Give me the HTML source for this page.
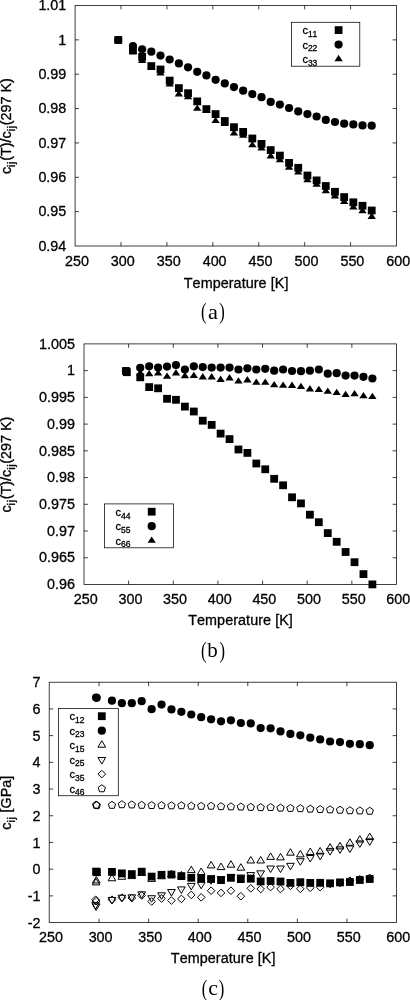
<!DOCTYPE html>
<html><head><meta charset="utf-8"><title>Elastic constants vs temperature</title>
<style>html,body{margin:0;padding:0;background:#fff}svg{display:block}text{font-family:"Liberation Sans", sans-serif;font-kerning:none;fill:#000;stroke:#000;stroke-width:0.3px}.cap{font-family:"Liberation Serif",serif;stroke:none}.o{fill:none;stroke:#000;stroke-width:1}.o circle{fill:#555;stroke:none}</style></head><body>
<svg width="410" height="1000" viewBox="0 0 410 1000">
<rect width="410" height="1000" fill="#fff"/>
<g fill="none" stroke="#000" stroke-width="0.75">
<rect x="75.1" y="5.5" width="321.4" height="240.5"/>
<path d="M121.01 246v-3.9M121.01 5.5v3.9M166.93 246v-3.9M166.93 5.5v3.9M212.84 246v-3.9M212.84 5.5v3.9M258.76 246v-3.9M258.76 5.5v3.9M304.67 246v-3.9M304.67 5.5v3.9M350.59 246v-3.9M350.59 5.5v3.9M75.1 39.86h3.9M396.5 39.86h-3.9M75.1 74.21h3.9M396.5 74.21h-3.9M75.1 108.57h3.9M396.5 108.57h-3.9M75.1 142.93h3.9M396.5 142.93h-3.9M75.1 177.29h3.9M396.5 177.29h-3.9M75.1 211.64h3.9M396.5 211.64h-3.9"/>
</g>
<text x="66.3" y="10.2" text-anchor="end" font-size="14.35">1.01</text>
<text x="66.3" y="44.56" text-anchor="end" font-size="14.35">1</text>
<text x="66.3" y="78.91" text-anchor="end" font-size="14.35">0.99</text>
<text x="66.3" y="113.27" text-anchor="end" font-size="14.35">0.98</text>
<text x="66.3" y="147.63" text-anchor="end" font-size="14.35">0.97</text>
<text x="66.3" y="181.99" text-anchor="end" font-size="14.35">0.96</text>
<text x="66.3" y="216.34" text-anchor="end" font-size="14.35">0.95</text>
<text x="66.3" y="250.7" text-anchor="end" font-size="14.35">0.94</text>
<text x="76.9" y="265.5" text-anchor="middle" font-size="14.35">250</text>
<text x="122.81" y="265.5" text-anchor="middle" font-size="14.35">300</text>
<text x="168.73" y="265.5" text-anchor="middle" font-size="14.35">350</text>
<text x="214.64" y="265.5" text-anchor="middle" font-size="14.35">400</text>
<text x="260.56" y="265.5" text-anchor="middle" font-size="14.35">450</text>
<text x="306.47" y="265.5" text-anchor="middle" font-size="14.35">500</text>
<text x="352.39" y="265.5" text-anchor="middle" font-size="14.35">550</text>
<text x="398.3" y="265.5" text-anchor="middle" font-size="14.35">600</text>
<text x="236.1" y="287.9" text-anchor="middle" font-size="14.35" letter-spacing="0.07">Temperature [K]</text>
<text transform="translate(10.5 126.15) rotate(-90)" text-anchor="middle" font-size="14.35">c<tspan font-size="11.48" dy="4.3" letter-spacing="0.5">ij</tspan><tspan dy="-4.3">(T)/</tspan>c<tspan font-size="11.48" dy="4.3" letter-spacing="0.5">ij</tspan><tspan dy="-4.3">(297 K)</tspan></text>
<g>
<rect x="114.36" y="36.1" width="7.8" height="7.8"/>
<rect x="129.05" y="46.7" width="7.8" height="7.8"/>
<rect x="138.23" y="53" width="7.8" height="7.8"/>
<rect x="147.42" y="62.2" width="7.8" height="7.8"/>
<rect x="156.6" y="65.6" width="7.8" height="7.8"/>
<rect x="165.78" y="76.7" width="7.8" height="7.8"/>
<rect x="174.97" y="84.2" width="7.8" height="7.8"/>
<rect x="184.15" y="89.3" width="7.8" height="7.8"/>
<rect x="193.33" y="97.5" width="7.8" height="7.8"/>
<rect x="202.51" y="105.2" width="7.8" height="7.8"/>
<rect x="211.7" y="110.2" width="7.8" height="7.8"/>
<rect x="220.88" y="117.1" width="7.8" height="7.8"/>
<rect x="230.06" y="123.3" width="7.8" height="7.8"/>
<rect x="239.25" y="128" width="7.8" height="7.8"/>
<rect x="248.43" y="134.6" width="7.8" height="7.8"/>
<rect x="257.61" y="140" width="7.8" height="7.8"/>
<rect x="266.79" y="146.2" width="7.8" height="7.8"/>
<rect x="275.98" y="151.7" width="7.8" height="7.8"/>
<rect x="285.16" y="159" width="7.8" height="7.8"/>
<rect x="294.34" y="163.9" width="7.8" height="7.8"/>
<rect x="303.53" y="171.6" width="7.8" height="7.8"/>
<rect x="312.71" y="176.5" width="7.8" height="7.8"/>
<rect x="321.89" y="182.1" width="7.8" height="7.8"/>
<rect x="331.07" y="187.9" width="7.8" height="7.8"/>
<rect x="340.26" y="193.2" width="7.8" height="7.8"/>
<rect x="349.44" y="198.4" width="7.8" height="7.8"/>
<rect x="358.62" y="201.9" width="7.8" height="7.8"/>
<rect x="367.81" y="206.6" width="7.8" height="7.8"/>
<circle cx="118.26" cy="40" r="4.1"/>
<circle cx="132.95" cy="46" r="4.1"/>
<circle cx="142.13" cy="49.3" r="4.1"/>
<circle cx="151.32" cy="51.7" r="4.1"/>
<circle cx="160.5" cy="55.6" r="4.1"/>
<circle cx="169.68" cy="59.5" r="4.1"/>
<circle cx="178.87" cy="63.4" r="4.1"/>
<circle cx="188.05" cy="67.3" r="4.1"/>
<circle cx="197.23" cy="71.8" r="4.1"/>
<circle cx="206.41" cy="75.4" r="4.1"/>
<circle cx="215.6" cy="79.8" r="4.1"/>
<circle cx="224.78" cy="83.4" r="4.1"/>
<circle cx="233.96" cy="87.1" r="4.1"/>
<circle cx="243.15" cy="90.7" r="4.1"/>
<circle cx="252.33" cy="94.1" r="4.1"/>
<circle cx="261.51" cy="97.2" r="4.1"/>
<circle cx="270.69" cy="101.9" r="4.1"/>
<circle cx="279.88" cy="104.6" r="4.1"/>
<circle cx="289.06" cy="108" r="4.1"/>
<circle cx="298.24" cy="111.4" r="4.1"/>
<circle cx="307.43" cy="114.1" r="4.1"/>
<circle cx="316.61" cy="116.5" r="4.1"/>
<circle cx="325.79" cy="119.9" r="4.1"/>
<circle cx="334.97" cy="122" r="4.1"/>
<circle cx="344.16" cy="123.7" r="4.1"/>
<circle cx="353.34" cy="124.4" r="4.1"/>
<circle cx="362.52" cy="125.4" r="4.1"/>
<circle cx="371.71" cy="125.7" r="4.1"/>
<polygon points="114.11,42.62 122.41,42.62 118.26,36.32"/>
<polygon points="128.8,53.72 137.1,53.72 132.95,47.42"/>
<polygon points="137.98,63.02 146.28,63.02 142.13,56.72"/>
<polygon points="147.17,69.22 155.47,69.22 151.32,62.92"/>
<polygon points="156.35,75.62 164.65,75.62 160.5,69.32"/>
<polygon points="165.53,86.62 173.83,86.62 169.68,80.32"/>
<polygon points="174.72,96.42 183.02,96.42 178.87,90.12"/>
<polygon points="183.9,99.32 192.2,99.32 188.05,93.02"/>
<polygon points="193.08,110.72 201.38,110.72 197.23,104.42"/>
<polygon points="202.26,112.72 210.56,112.72 206.41,106.42"/>
<polygon points="211.45,123.02 219.75,123.02 215.6,116.72"/>
<polygon points="220.63,126.12 228.93,126.12 224.78,119.82"/>
<polygon points="229.81,135.52 238.11,135.52 233.96,129.22"/>
<polygon points="239,137.72 247.3,137.72 243.15,131.42"/>
<polygon points="248.18,147.32 256.48,147.32 252.33,141.02"/>
<polygon points="257.36,150.42 265.66,150.42 261.51,144.12"/>
<polygon points="266.54,158.42 274.84,158.42 270.69,152.12"/>
<polygon points="275.73,162.22 284.03,162.22 279.88,155.92"/>
<polygon points="284.91,169.82 293.21,169.82 289.06,163.52"/>
<polygon points="294.09,174.62 302.39,174.62 298.24,168.32"/>
<polygon points="303.28,182.32 311.58,182.32 307.43,176.02"/>
<polygon points="312.46,186.82 320.76,186.82 316.61,180.52"/>
<polygon points="321.64,193.32 329.94,193.32 325.79,187.02"/>
<polygon points="330.82,198.42 339.12,198.42 334.97,192.12"/>
<polygon points="340.01,204.02 348.31,204.02 344.16,197.72"/>
<polygon points="349.19,209.52 357.49,209.52 353.34,203.22"/>
<polygon points="358.37,213.32 366.67,213.32 362.52,207.02"/>
<polygon points="367.56,218.92 375.86,218.92 371.71,212.62"/>
</g>
<rect x="291.5" y="22.3" width="68.3" height="43.9" fill="none" stroke="#000" stroke-width="0.75"/>
<text x="302.4" y="34.1" font-size="11">c<tspan font-size="8.5" dy="2.8">11</tspan></text>
<rect x="334.7" y="26.2" width="7.8" height="7.8"/>
<text x="302.4" y="48.57" font-size="11">c<tspan font-size="8.5" dy="2.8">22</tspan></text>
<circle cx="338.6" cy="44.57" r="4.1"/>
<text x="302.4" y="63.04" font-size="11">c<tspan font-size="8.5" dy="2.8">33</tspan></text>
<polygon points="334.45,61.16 342.75,61.16 338.6,54.86"/>
<text class="cap" transform="translate(203.8 319.2) scale(0.72 1)" text-anchor="middle" font-size="23">(</text>
<text class="cap" transform="translate(213 318.5) scale(1.12 1)" text-anchor="middle" font-size="20">a</text>
<text class="cap" transform="translate(222 319.2) scale(0.72 1)" text-anchor="middle" font-size="23">)</text>
<g fill="none" stroke="#000" stroke-width="0.75">
<rect x="84" y="343.9" width="312.5" height="240.6"/>
<path d="M128.64 584.5v-3.9M128.64 343.9v3.9M173.29 584.5v-3.9M173.29 343.9v3.9M217.93 584.5v-3.9M217.93 343.9v3.9M262.57 584.5v-3.9M262.57 343.9v3.9M307.21 584.5v-3.9M307.21 343.9v3.9M351.86 584.5v-3.9M351.86 343.9v3.9M84 370.63h3.9M396.5 370.63h-3.9M84 397.37h3.9M396.5 397.37h-3.9M84 424.1h3.9M396.5 424.1h-3.9M84 450.83h3.9M396.5 450.83h-3.9M84 477.57h3.9M396.5 477.57h-3.9M84 504.3h3.9M396.5 504.3h-3.9M84 531.03h3.9M396.5 531.03h-3.9M84 557.77h3.9M396.5 557.77h-3.9"/>
</g>
<text x="75" y="348.6" text-anchor="end" font-size="14.35">1.005</text>
<text x="75" y="375.33" text-anchor="end" font-size="14.35">1</text>
<text x="75" y="402.07" text-anchor="end" font-size="14.35">0.995</text>
<text x="75" y="428.8" text-anchor="end" font-size="14.35">0.99</text>
<text x="75" y="455.53" text-anchor="end" font-size="14.35">0.985</text>
<text x="75" y="482.27" text-anchor="end" font-size="14.35">0.98</text>
<text x="75" y="509" text-anchor="end" font-size="14.35">0.975</text>
<text x="75" y="535.73" text-anchor="end" font-size="14.35">0.97</text>
<text x="75" y="562.47" text-anchor="end" font-size="14.35">0.965</text>
<text x="75" y="589.2" text-anchor="end" font-size="14.35">0.96</text>
<text x="85.8" y="603.6" text-anchor="middle" font-size="14.35">250</text>
<text x="130.44" y="603.6" text-anchor="middle" font-size="14.35">300</text>
<text x="175.09" y="603.6" text-anchor="middle" font-size="14.35">350</text>
<text x="219.73" y="603.6" text-anchor="middle" font-size="14.35">400</text>
<text x="264.37" y="603.6" text-anchor="middle" font-size="14.35">450</text>
<text x="309.01" y="603.6" text-anchor="middle" font-size="14.35">500</text>
<text x="353.66" y="603.6" text-anchor="middle" font-size="14.35">550</text>
<text x="398.3" y="603.6" text-anchor="middle" font-size="14.35">600</text>
<text x="240.55" y="624.9" text-anchor="middle" font-size="14.35" letter-spacing="0.07">Temperature [K]</text>
<text transform="translate(10.5 464.6) rotate(-90)" text-anchor="middle" font-size="14.35">c<tspan font-size="11.48" dy="4.3" letter-spacing="0.5">ij</tspan><tspan dy="-4.3">(T)/</tspan>c<tspan font-size="11.48" dy="4.3" letter-spacing="0.5">ij</tspan><tspan dy="-4.3">(297 K)</tspan></text>
<g>
<rect x="122.06" y="367.1" width="7.8" height="7.8"/>
<rect x="136.35" y="373.4" width="7.8" height="7.8"/>
<rect x="145.28" y="383.2" width="7.8" height="7.8"/>
<rect x="154.21" y="384.4" width="7.8" height="7.8"/>
<rect x="163.14" y="394.9" width="7.8" height="7.8"/>
<rect x="172.06" y="395.9" width="7.8" height="7.8"/>
<rect x="180.99" y="402.7" width="7.8" height="7.8"/>
<rect x="189.92" y="407.6" width="7.8" height="7.8"/>
<rect x="198.85" y="416.8" width="7.8" height="7.8"/>
<rect x="207.78" y="421" width="7.8" height="7.8"/>
<rect x="216.71" y="429.7" width="7.8" height="7.8"/>
<rect x="225.64" y="435.2" width="7.8" height="7.8"/>
<rect x="234.56" y="445.6" width="7.8" height="7.8"/>
<rect x="243.49" y="449" width="7.8" height="7.8"/>
<rect x="252.42" y="459.6" width="7.8" height="7.8"/>
<rect x="261.35" y="465.4" width="7.8" height="7.8"/>
<rect x="270.28" y="474.9" width="7.8" height="7.8"/>
<rect x="279.21" y="481.4" width="7.8" height="7.8"/>
<rect x="288.14" y="493.4" width="7.8" height="7.8"/>
<rect x="297.06" y="499.5" width="7.8" height="7.8"/>
<rect x="305.99" y="510.8" width="7.8" height="7.8"/>
<rect x="314.92" y="518.3" width="7.8" height="7.8"/>
<rect x="323.85" y="529.2" width="7.8" height="7.8"/>
<rect x="332.78" y="537.9" width="7.8" height="7.8"/>
<rect x="341.71" y="548.1" width="7.8" height="7.8"/>
<rect x="350.64" y="558.3" width="7.8" height="7.8"/>
<rect x="359.56" y="570.2" width="7.8" height="7.8"/>
<rect x="368.49" y="580.5" width="7.8" height="7.8"/>
<rect x="122.96" y="368.3" width="7.8" height="7.8"/>
<circle cx="125.96" cy="371.2" r="4.1"/>
<circle cx="140.25" cy="367.8" r="4.1"/>
<circle cx="149.18" cy="366.3" r="4.1"/>
<circle cx="158.11" cy="367.6" r="4.1"/>
<circle cx="167.04" cy="366.6" r="4.1"/>
<circle cx="175.96" cy="365.1" r="4.1"/>
<circle cx="184.89" cy="369.5" r="4.1"/>
<circle cx="193.82" cy="366.3" r="4.1"/>
<circle cx="202.75" cy="367.1" r="4.1"/>
<circle cx="211.68" cy="367.6" r="4.1"/>
<circle cx="220.61" cy="367.6" r="4.1"/>
<circle cx="229.54" cy="367.6" r="4.1"/>
<circle cx="238.46" cy="369.5" r="4.1"/>
<circle cx="247.39" cy="368.3" r="4.1"/>
<circle cx="256.32" cy="369.5" r="4.1"/>
<circle cx="265.25" cy="368.8" r="4.1"/>
<circle cx="274.18" cy="370.7" r="4.1"/>
<circle cx="283.11" cy="369.5" r="4.1"/>
<circle cx="292.04" cy="371" r="4.1"/>
<circle cx="300.96" cy="371.2" r="4.1"/>
<circle cx="309.89" cy="370.7" r="4.1"/>
<circle cx="318.82" cy="369.5" r="4.1"/>
<circle cx="327.75" cy="373.7" r="4.1"/>
<circle cx="336.68" cy="373.2" r="4.1"/>
<circle cx="345.61" cy="375.6" r="4.1"/>
<circle cx="354.54" cy="375.6" r="4.1"/>
<circle cx="363.46" cy="376.8" r="4.1"/>
<circle cx="372.39" cy="378.5" r="4.1"/>
<polygon points="121.81,373.52 130.11,373.52 125.96,367.22"/>
<polygon points="136.1,375.42 144.4,375.42 140.25,369.12"/>
<polygon points="145.03,376.32 153.33,376.32 149.18,370.02"/>
<polygon points="153.96,375.52 162.26,375.52 158.11,369.22"/>
<polygon points="162.89,378.72 171.19,378.72 167.04,372.42"/>
<polygon points="171.81,375.52 180.11,375.52 175.96,369.22"/>
<polygon points="180.74,378.22 189.04,378.22 184.89,371.92"/>
<polygon points="189.67,378.02 197.97,378.02 193.82,371.72"/>
<polygon points="198.6,379.42 206.9,379.42 202.75,373.12"/>
<polygon points="207.53,379.42 215.83,379.42 211.68,373.12"/>
<polygon points="216.46,381.92 224.76,381.92 220.61,375.62"/>
<polygon points="225.39,380.42 233.69,380.42 229.54,374.12"/>
<polygon points="234.31,383.62 242.61,383.62 238.46,377.32"/>
<polygon points="243.24,382.42 251.54,382.42 247.39,376.12"/>
<polygon points="252.17,384.82 260.47,384.82 256.32,378.52"/>
<polygon points="261.1,384.82 269.4,384.82 265.25,378.52"/>
<polygon points="270.03,387.22 278.33,387.22 274.18,380.92"/>
<polygon points="278.96,387.72 287.26,387.72 283.11,381.42"/>
<polygon points="287.89,387.92 296.19,387.92 292.04,381.62"/>
<polygon points="296.81,389.02 305.11,389.02 300.96,382.72"/>
<polygon points="305.74,391.42 314.04,391.42 309.89,385.12"/>
<polygon points="314.67,392.12 322.97,392.12 318.82,385.82"/>
<polygon points="323.6,393.82 331.9,393.82 327.75,387.52"/>
<polygon points="332.53,395.12 340.83,395.12 336.68,388.82"/>
<polygon points="341.46,397.02 349.76,397.02 345.61,390.72"/>
<polygon points="350.39,396.32 358.69,396.32 354.54,390.02"/>
<polygon points="359.31,398.22 367.61,398.22 363.46,391.92"/>
<polygon points="368.24,399.02 376.54,399.02 372.39,392.72"/>
</g>
<rect x="104.6" y="503.9" width="68.9" height="43.9" fill="none" stroke="#000" stroke-width="0.75"/>
<text x="115.5" y="515.7" font-size="11">c<tspan font-size="8.5" dy="2.8">44</tspan></text>
<rect x="147.8" y="507.8" width="7.8" height="7.8"/>
<text x="115.5" y="530.17" font-size="11">c<tspan font-size="8.5" dy="2.8">55</tspan></text>
<circle cx="151.7" cy="526.17" r="4.1"/>
<text x="115.5" y="544.64" font-size="11">c<tspan font-size="8.5" dy="2.8">66</tspan></text>
<polygon points="147.55,542.76 155.85,542.76 151.7,536.46"/>
<text class="cap" transform="translate(203.8 657.5) scale(0.72 1)" text-anchor="middle" font-size="23">(</text>
<text class="cap" transform="translate(212.5 656.8) scale(1.05 1)" text-anchor="middle" font-size="20">b</text>
<text class="cap" transform="translate(222.2 657.5) scale(0.72 1)" text-anchor="middle" font-size="23">)</text>
<g fill="none" stroke="#000" stroke-width="0.75">
<rect x="49.2" y="682.2" width="347.3" height="240.4"/>
<path d="M99.07 922.6v-3.9M99.07 682.2v3.9M148.64 922.6v-3.9M148.64 682.2v3.9M198.21 922.6v-3.9M198.21 682.2v3.9M247.79 922.6v-3.9M247.79 682.2v3.9M297.36 922.6v-3.9M297.36 682.2v3.9M346.93 922.6v-3.9M346.93 682.2v3.9M49.2 708.91h3.9M396.5 708.91h-3.9M49.2 735.62h3.9M396.5 735.62h-3.9M49.2 762.33h3.9M396.5 762.33h-3.9M49.2 789.04h3.9M396.5 789.04h-3.9M49.2 815.76h3.9M396.5 815.76h-3.9M49.2 842.47h3.9M396.5 842.47h-3.9M49.2 869.18h3.9M396.5 869.18h-3.9M49.2 895.89h3.9M396.5 895.89h-3.9"/>
</g>
<text x="40.4" y="687.3" text-anchor="end" font-size="14.35">7</text>
<text x="40.4" y="714.01" text-anchor="end" font-size="14.35">6</text>
<text x="40.4" y="740.72" text-anchor="end" font-size="14.35">5</text>
<text x="40.4" y="767.43" text-anchor="end" font-size="14.35">4</text>
<text x="40.4" y="794.14" text-anchor="end" font-size="14.35">3</text>
<text x="40.4" y="820.86" text-anchor="end" font-size="14.35">2</text>
<text x="40.4" y="847.57" text-anchor="end" font-size="14.35">1</text>
<text x="40.4" y="874.28" text-anchor="end" font-size="14.35">0</text>
<text x="40.4" y="900.99" text-anchor="end" font-size="14.35">-1</text>
<text x="40.4" y="927.7" text-anchor="end" font-size="14.35">-2</text>
<text x="51" y="941.8" text-anchor="middle" font-size="14.35">250</text>
<text x="100.61" y="941.8" text-anchor="middle" font-size="14.35">300</text>
<text x="150.23" y="941.8" text-anchor="middle" font-size="14.35">350</text>
<text x="199.84" y="941.8" text-anchor="middle" font-size="14.35">400</text>
<text x="249.46" y="941.8" text-anchor="middle" font-size="14.35">450</text>
<text x="299.07" y="941.8" text-anchor="middle" font-size="14.35">500</text>
<text x="348.69" y="941.8" text-anchor="middle" font-size="14.35">550</text>
<text x="398.3" y="941.8" text-anchor="middle" font-size="14.35">600</text>
<text x="223.15" y="963.4" text-anchor="middle" font-size="14.35" letter-spacing="0.07">Temperature [K]</text>
<text transform="translate(10.5 802.8) rotate(-90)" text-anchor="middle" font-size="14.35">c<tspan font-size="11.48" dy="4.3" letter-spacing="0.5">ij</tspan><tspan dy="-4.3"> [GPa]</tspan></text>
<g>
<rect x="92.2" y="867.7" width="7.8" height="7.8"/>
<rect x="108.06" y="868" width="7.8" height="7.8"/>
<rect x="117.97" y="869.5" width="7.8" height="7.8"/>
<rect x="127.89" y="870.2" width="7.8" height="7.8"/>
<rect x="137.8" y="867.8" width="7.8" height="7.8"/>
<rect x="147.72" y="872.7" width="7.8" height="7.8"/>
<rect x="157.63" y="870.9" width="7.8" height="7.8"/>
<rect x="167.55" y="870.7" width="7.8" height="7.8"/>
<rect x="177.46" y="872.2" width="7.8" height="7.8"/>
<rect x="187.37" y="873.9" width="7.8" height="7.8"/>
<rect x="197.29" y="874.6" width="7.8" height="7.8"/>
<rect x="207.2" y="875.1" width="7.8" height="7.8"/>
<rect x="217.12" y="876.2" width="7.8" height="7.8"/>
<rect x="227.03" y="873.9" width="7.8" height="7.8"/>
<rect x="236.95" y="875.2" width="7.8" height="7.8"/>
<rect x="246.86" y="874.8" width="7.8" height="7.8"/>
<rect x="256.77" y="877.5" width="7.8" height="7.8"/>
<rect x="266.69" y="877.1" width="7.8" height="7.8"/>
<rect x="276.6" y="877.6" width="7.8" height="7.8"/>
<rect x="286.52" y="879" width="7.8" height="7.8"/>
<rect x="296.43" y="878.3" width="7.8" height="7.8"/>
<rect x="306.35" y="879" width="7.8" height="7.8"/>
<rect x="316.26" y="878.9" width="7.8" height="7.8"/>
<rect x="326.17" y="879.4" width="7.8" height="7.8"/>
<rect x="336.09" y="878.5" width="7.8" height="7.8"/>
<rect x="346" y="878.1" width="7.8" height="7.8"/>
<rect x="355.92" y="876.1" width="7.8" height="7.8"/>
<rect x="365.83" y="875.1" width="7.8" height="7.8"/>
<rect x="93" y="868.3" width="7.8" height="7.8"/>
<circle cx="96.1" cy="697.6" r="4.1"/>
<circle cx="111.96" cy="700.7" r="4.1"/>
<circle cx="121.87" cy="703.2" r="4.1"/>
<circle cx="131.79" cy="703.2" r="4.1"/>
<circle cx="141.7" cy="701.2" r="4.1"/>
<circle cx="151.62" cy="709.2" r="4.1"/>
<circle cx="161.53" cy="704.6" r="4.1"/>
<circle cx="171.45" cy="709.4" r="4.1"/>
<circle cx="181.36" cy="711.8" r="4.1"/>
<circle cx="191.27" cy="714.5" r="4.1"/>
<circle cx="201.19" cy="717.2" r="4.1"/>
<circle cx="211.1" cy="719.3" r="4.1"/>
<circle cx="221.02" cy="721.3" r="4.1"/>
<circle cx="230.93" cy="720.3" r="4.1"/>
<circle cx="240.85" cy="723" r="4.1"/>
<circle cx="250.76" cy="723.4" r="4.1"/>
<circle cx="260.67" cy="728.1" r="4.1"/>
<circle cx="270.59" cy="728.3" r="4.1"/>
<circle cx="280.5" cy="731.4" r="4.1"/>
<circle cx="290.42" cy="733.9" r="4.1"/>
<circle cx="300.33" cy="735.3" r="4.1"/>
<circle cx="310.25" cy="737.7" r="4.1"/>
<circle cx="320.16" cy="739.4" r="4.1"/>
<circle cx="330.07" cy="741.5" r="4.1"/>
<circle cx="339.99" cy="742.1" r="4.1"/>
<circle cx="349.9" cy="743.8" r="4.1"/>
<circle cx="359.82" cy="744.2" r="4.1"/>
<circle cx="369.73" cy="745.2" r="4.1"/>
<circle cx="96.7" cy="697.8" r="4.1"/>
</g><g class="o">
<polygon points="92.25,884.88 99.95,884.88 96.1,878.38"/><circle cx="96.1" cy="882.8" r="0.4"/>
<polygon points="108.11,880.78 115.81,880.78 111.96,874.28"/><circle cx="111.96" cy="878.7" r="0.4"/>
<polygon points="118.02,879.28 125.72,879.28 121.87,872.78"/><circle cx="121.87" cy="877.2" r="0.4"/>
<polygon points="127.94,878.58 135.64,878.58 131.79,872.08"/><circle cx="131.79" cy="876.5" r="0.4"/>
<polygon points="137.85,875.38 145.55,875.38 141.7,868.88"/><circle cx="141.7" cy="873.3" r="0.4"/>
<polygon points="147.77,881.38 155.47,881.38 151.62,874.88"/><circle cx="151.62" cy="879.3" r="0.4"/>
<polygon points="157.68,878.78 165.38,878.78 161.53,872.28"/><circle cx="161.53" cy="876.7" r="0.4"/>
<polygon points="167.6,876.68 175.3,876.68 171.45,870.18"/><circle cx="171.45" cy="874.6" r="0.4"/>
<polygon points="177.51,877.88 185.21,877.88 181.36,871.38"/><circle cx="181.36" cy="875.8" r="0.4"/>
<polygon points="187.42,872.58 195.12,872.58 191.27,866.08"/><circle cx="191.27" cy="870.5" r="0.4"/>
<polygon points="197.34,874.48 205.04,874.48 201.19,867.98"/><circle cx="201.19" cy="872.4" r="0.4"/>
<polygon points="207.25,867.88 214.95,867.88 211.1,861.38"/><circle cx="211.1" cy="865.8" r="0.4"/>
<polygon points="217.17,869.58 224.87,869.58 221.02,863.08"/><circle cx="221.02" cy="867.5" r="0.4"/>
<polygon points="227.08,867.18 234.78,867.18 230.93,860.68"/><circle cx="230.93" cy="865.1" r="0.4"/>
<polygon points="237,870.18 244.7,870.18 240.85,863.68"/><circle cx="240.85" cy="868.1" r="0.4"/>
<polygon points="246.91,862.98 254.61,862.98 250.76,856.48"/><circle cx="250.76" cy="860.9" r="0.4"/>
<polygon points="256.82,862.98 264.52,862.98 260.67,856.48"/><circle cx="260.67" cy="860.9" r="0.4"/>
<polygon points="266.74,859.38 274.44,859.38 270.59,852.88"/><circle cx="270.59" cy="857.3" r="0.4"/>
<polygon points="276.65,859.88 284.35,859.88 280.5,853.38"/><circle cx="280.5" cy="857.8" r="0.4"/>
<polygon points="286.57,855.18 294.27,855.18 290.42,848.68"/><circle cx="290.42" cy="853.1" r="0.4"/>
<polygon points="296.48,856.88 304.18,856.88 300.33,850.38"/><circle cx="300.33" cy="854.8" r="0.4"/>
<polygon points="306.4,854.48 314.1,854.48 310.25,847.98"/><circle cx="310.25" cy="852.4" r="0.4"/>
<polygon points="316.31,853.98 324.01,853.98 320.16,847.48"/><circle cx="320.16" cy="851.9" r="0.4"/>
<polygon points="326.22,850.08 333.92,850.08 330.07,843.58"/><circle cx="330.07" cy="848" r="0.4"/>
<polygon points="336.14,848.88 343.84,848.88 339.99,842.38"/><circle cx="339.99" cy="846.8" r="0.4"/>
<polygon points="346.05,845.28 353.75,845.28 349.9,838.78"/><circle cx="349.9" cy="843.2" r="0.4"/>
<polygon points="355.97,842.08 363.67,842.08 359.82,835.58"/><circle cx="359.82" cy="840" r="0.4"/>
<polygon points="365.88,839.58 373.58,839.58 369.73,833.08"/><circle cx="369.73" cy="837.5" r="0.4"/>
<polygon points="92.45,882.98 100.15,882.98 96.3,876.48"/><circle cx="96.3" cy="880.9" r="0.4"/>
<polygon points="92.25,904.02 99.95,904.02 96.1,910.52"/><circle cx="96.1" cy="906.1" r="0.4"/>
<polygon points="108.11,897.42 115.81,897.42 111.96,903.92"/><circle cx="111.96" cy="899.5" r="0.4"/>
<polygon points="118.02,895.22 125.72,895.22 121.87,901.72"/><circle cx="121.87" cy="897.3" r="0.4"/>
<polygon points="127.94,894.82 135.64,894.82 131.79,901.32"/><circle cx="131.79" cy="896.9" r="0.4"/>
<polygon points="137.85,891.82 145.55,891.82 141.7,898.32"/><circle cx="141.7" cy="893.9" r="0.4"/>
<polygon points="147.77,895.72 155.47,895.72 151.62,902.22"/><circle cx="151.62" cy="897.8" r="0.4"/>
<polygon points="157.68,892.82 165.38,892.82 161.53,899.32"/><circle cx="161.53" cy="894.9" r="0.4"/>
<polygon points="167.6,889.52 175.3,889.52 171.45,896.02"/><circle cx="171.45" cy="891.6" r="0.4"/>
<polygon points="177.51,886.92 185.21,886.92 181.36,893.42"/><circle cx="181.36" cy="889" r="0.4"/>
<polygon points="187.42,883.42 195.12,883.42 191.27,889.92"/><circle cx="191.27" cy="885.5" r="0.4"/>
<polygon points="197.34,882.32 205.04,882.32 201.19,888.82"/><circle cx="201.19" cy="884.4" r="0.4"/>
<polygon points="207.25,877.72 214.95,877.72 211.1,884.22"/><circle cx="211.1" cy="879.8" r="0.4"/>
<polygon points="217.17,876.72 224.87,876.72 221.02,883.22"/><circle cx="221.02" cy="878.8" r="0.4"/>
<polygon points="227.08,874.72 234.78,874.72 230.93,881.22"/><circle cx="230.93" cy="876.8" r="0.4"/>
<polygon points="237,875.02 244.7,875.02 240.85,881.52"/><circle cx="240.85" cy="877.1" r="0.4"/>
<polygon points="246.91,872.62 254.61,872.62 250.76,879.12"/><circle cx="250.76" cy="874.7" r="0.4"/>
<polygon points="256.82,870.82 264.52,870.82 260.67,877.32"/><circle cx="260.67" cy="872.9" r="0.4"/>
<polygon points="266.74,866.02 274.44,866.02 270.59,872.52"/><circle cx="270.59" cy="868.1" r="0.4"/>
<polygon points="276.65,866.02 284.35,866.02 280.5,872.52"/><circle cx="280.5" cy="868.1" r="0.4"/>
<polygon points="286.57,863.32 294.27,863.32 290.42,869.82"/><circle cx="290.42" cy="865.4" r="0.4"/>
<polygon points="296.48,858.72 304.18,858.72 300.33,865.22"/><circle cx="300.33" cy="860.8" r="0.4"/>
<polygon points="306.4,855.52 314.1,855.52 310.25,862.02"/><circle cx="310.25" cy="857.6" r="0.4"/>
<polygon points="316.31,853.32 324.01,853.32 320.16,859.82"/><circle cx="320.16" cy="855.4" r="0.4"/>
<polygon points="326.22,848.62 333.92,848.62 330.07,855.12"/><circle cx="330.07" cy="850.7" r="0.4"/>
<polygon points="336.14,846.92 343.84,846.92 339.99,853.42"/><circle cx="339.99" cy="849" r="0.4"/>
<polygon points="346.05,846.02 353.75,846.02 349.9,852.52"/><circle cx="349.9" cy="848.1" r="0.4"/>
<polygon points="355.97,840.92 363.67,840.92 359.82,847.42"/><circle cx="359.82" cy="843" r="0.4"/>
<polygon points="365.88,838.82 373.58,838.82 369.73,845.32"/><circle cx="369.73" cy="840.9" r="0.4"/>
<polygon points="91.75,902.62 99.45,902.62 95.6,909.12"/><circle cx="95.6" cy="904.7" r="0.4"/>
<polygon points="92.3,901.1 96.1,897.3 99.9,901.1 96.1,904.9"/><circle cx="96.1" cy="901.1" r="0.4"/>
<polygon points="108.16,899.7 111.96,895.9 115.76,899.7 111.96,903.5"/><circle cx="111.96" cy="899.7" r="0.4"/>
<polygon points="118.07,897.7 121.87,893.9 125.67,897.7 121.87,901.5"/><circle cx="121.87" cy="897.7" r="0.4"/>
<polygon points="127.99,898 131.79,894.2 135.59,898 131.79,901.8"/><circle cx="131.79" cy="898" r="0.4"/>
<polygon points="137.9,895.4 141.7,891.6 145.5,895.4 141.7,899.2"/><circle cx="141.7" cy="895.4" r="0.4"/>
<polygon points="147.82,901.5 151.62,897.7 155.42,901.5 151.62,905.3"/><circle cx="151.62" cy="901.5" r="0.4"/>
<polygon points="157.73,898.5 161.53,894.7 165.33,898.5 161.53,902.3"/><circle cx="161.53" cy="898.5" r="0.4"/>
<polygon points="167.65,900.5 171.45,896.7 175.25,900.5 171.45,904.3"/><circle cx="171.45" cy="900.5" r="0.4"/>
<polygon points="177.56,898.9 181.36,895.1 185.16,898.9 181.36,902.7"/><circle cx="181.36" cy="898.9" r="0.4"/>
<polygon points="187.47,894.9 191.27,891.1 195.07,894.9 191.27,898.7"/><circle cx="191.27" cy="894.9" r="0.4"/>
<polygon points="197.39,897.3 201.19,893.5 204.99,897.3 201.19,901.1"/><circle cx="201.19" cy="897.3" r="0.4"/>
<polygon points="207.3,890.7 211.1,886.9 214.9,890.7 211.1,894.5"/><circle cx="211.1" cy="890.7" r="0.4"/>
<polygon points="217.22,892.9 221.02,889.1 224.82,892.9 221.02,896.7"/><circle cx="221.02" cy="892.9" r="0.4"/>
<polygon points="227.13,890.7 230.93,886.9 234.73,890.7 230.93,894.5"/><circle cx="230.93" cy="890.7" r="0.4"/>
<polygon points="237.05,896.2 240.85,892.4 244.65,896.2 240.85,900"/><circle cx="240.85" cy="896.2" r="0.4"/>
<polygon points="246.96,888.3 250.76,884.5 254.56,888.3 250.76,892.1"/><circle cx="250.76" cy="888.3" r="0.4"/>
<polygon points="256.87,889 260.67,885.2 264.47,889 260.67,892.8"/><circle cx="260.67" cy="889" r="0.4"/>
<polygon points="266.79,887.1 270.59,883.3 274.39,887.1 270.59,890.9"/><circle cx="270.59" cy="887.1" r="0.4"/>
<polygon points="276.7,889 280.5,885.2 284.3,889 280.5,892.8"/><circle cx="280.5" cy="889" r="0.4"/>
<polygon points="286.62,885.9 290.42,882.1 294.22,885.9 290.42,889.7"/><circle cx="290.42" cy="885.9" r="0.4"/>
<polygon points="296.53,888.8 300.33,885 304.13,888.8 300.33,892.6"/><circle cx="300.33" cy="888.8" r="0.4"/>
<polygon points="306.45,887.8 310.25,884 314.05,887.8 310.25,891.6"/><circle cx="310.25" cy="887.8" r="0.4"/>
<polygon points="316.36,887.2 320.16,883.4 323.96,887.2 320.16,891"/><circle cx="320.16" cy="887.2" r="0.4"/>
<polygon points="326.27,884 330.07,880.2 333.87,884 330.07,887.8"/><circle cx="330.07" cy="884" r="0.4"/>
<polygon points="336.19,882.9 339.99,879.1 343.79,882.9 339.99,886.7"/><circle cx="339.99" cy="882.9" r="0.4"/>
<polygon points="346.1,880.7 349.9,876.9 353.7,880.7 349.9,884.5"/><circle cx="349.9" cy="880.7" r="0.4"/>
<polygon points="356.02,879.2 359.82,875.4 363.62,879.2 359.82,883"/><circle cx="359.82" cy="879.2" r="0.4"/>
<polygon points="365.93,877.8 369.73,874 373.53,877.8 369.73,881.6"/><circle cx="369.73" cy="877.8" r="0.4"/>
<polygon points="91.8,899.7 95.6,895.9 99.4,899.7 95.6,903.5"/><circle cx="95.6" cy="899.7" r="0.4"/>
<polygon points="96.1,801.15 99.76,803.81 98.36,808.11 93.83,808.11 92.44,803.81"/><circle cx="96.1" cy="804.9" r="0.4"/>
<polygon points="111.96,801.35 115.62,804.01 114.22,808.31 109.7,808.31 108.3,804.01"/><circle cx="111.96" cy="805.1" r="0.4"/>
<polygon points="121.87,800.75 125.54,803.41 124.14,807.71 119.61,807.71 118.21,803.41"/><circle cx="121.87" cy="804.5" r="0.4"/>
<polygon points="131.79,800.95 135.45,803.61 134.05,807.91 129.53,807.91 128.13,803.61"/><circle cx="131.79" cy="804.7" r="0.4"/>
<polygon points="141.7,801.35 145.36,804.01 143.97,808.31 139.44,808.31 138.04,804.01"/><circle cx="141.7" cy="805.1" r="0.4"/>
<polygon points="151.62,801.55 155.28,804.21 153.88,808.51 149.35,808.51 147.96,804.21"/><circle cx="151.62" cy="805.3" r="0.4"/>
<polygon points="161.53,801.65 165.19,804.31 163.79,808.61 159.27,808.61 157.87,804.31"/><circle cx="161.53" cy="805.4" r="0.4"/>
<polygon points="171.45,801.85 175.11,804.51 173.71,808.81 169.18,808.81 167.78,804.51"/><circle cx="171.45" cy="805.6" r="0.4"/>
<polygon points="181.36,801.75 185.02,804.41 183.62,808.71 179.1,808.71 177.7,804.41"/><circle cx="181.36" cy="805.5" r="0.4"/>
<polygon points="191.27,802.15 194.94,804.81 193.54,809.11 189.01,809.11 187.61,804.81"/><circle cx="191.27" cy="805.9" r="0.4"/>
<polygon points="201.19,802.35 204.85,805.01 203.45,809.31 198.93,809.31 197.53,805.01"/><circle cx="201.19" cy="806.1" r="0.4"/>
<polygon points="211.1,802.25 214.76,804.91 213.37,809.21 208.84,809.21 207.44,804.91"/><circle cx="211.1" cy="806" r="0.4"/>
<polygon points="221.02,802.65 224.68,805.31 223.28,809.61 218.75,809.61 217.36,805.31"/><circle cx="221.02" cy="806.4" r="0.4"/>
<polygon points="230.93,802.85 234.59,805.51 233.19,809.81 228.67,809.81 227.27,805.51"/><circle cx="230.93" cy="806.6" r="0.4"/>
<polygon points="240.85,803.05 244.51,805.71 243.11,810.01 238.58,810.01 237.18,805.71"/><circle cx="240.85" cy="806.8" r="0.4"/>
<polygon points="250.76,803.35 254.42,806.01 253.02,810.31 248.5,810.31 247.1,806.01"/><circle cx="250.76" cy="807.1" r="0.4"/>
<polygon points="260.67,803.65 264.34,806.31 262.94,810.61 258.41,810.61 257.01,806.31"/><circle cx="260.67" cy="807.4" r="0.4"/>
<polygon points="270.59,803.55 274.25,806.21 272.85,810.51 268.33,810.51 266.93,806.21"/><circle cx="270.59" cy="807.3" r="0.4"/>
<polygon points="280.5,804.15 284.16,806.81 282.77,811.11 278.24,811.11 276.84,806.81"/><circle cx="280.5" cy="807.9" r="0.4"/>
<polygon points="290.42,804.45 294.08,807.11 292.68,811.41 288.15,811.41 286.76,807.11"/><circle cx="290.42" cy="808.2" r="0.4"/>
<polygon points="300.33,804.65 303.99,807.31 302.59,811.61 298.07,811.61 296.67,807.31"/><circle cx="300.33" cy="808.4" r="0.4"/>
<polygon points="310.25,805.15 313.91,807.81 312.51,812.11 307.98,812.11 306.58,807.81"/><circle cx="310.25" cy="808.9" r="0.4"/>
<polygon points="320.16,805.55 323.82,808.21 322.42,812.51 317.9,812.51 316.5,808.21"/><circle cx="320.16" cy="809.3" r="0.4"/>
<polygon points="330.07,805.85 333.74,808.51 332.34,812.81 327.81,812.81 326.41,808.51"/><circle cx="330.07" cy="809.6" r="0.4"/>
<polygon points="339.99,806.25 343.65,808.91 342.25,813.21 337.73,813.21 336.33,808.91"/><circle cx="339.99" cy="810" r="0.4"/>
<polygon points="349.9,806.75 353.56,809.41 352.17,813.71 347.64,813.71 346.24,809.41"/><circle cx="349.9" cy="810.5" r="0.4"/>
<polygon points="359.82,806.95 363.48,809.61 362.08,813.91 357.55,813.91 356.16,809.61"/><circle cx="359.82" cy="810.7" r="0.4"/>
<polygon points="369.73,807.25 373.39,809.91 371.99,814.21 367.47,814.21 366.07,809.91"/><circle cx="369.73" cy="811" r="0.4"/>
<polygon points="96.8,801.65 100.46,804.31 99.06,808.61 94.53,808.61 93.14,804.31"/><circle cx="96.8" cy="805.4" r="0.4"/>
</g>
<rect x="58.6" y="708.4" width="59.7" height="87.34" fill="none" stroke="#000" stroke-width="0.75"/>
<text x="69.5" y="720.2" font-size="11">c<tspan font-size="8.5" dy="2.8">12</tspan></text>
<rect x="97.9" y="712.3" width="7.8" height="7.8"/>
<text x="69.5" y="734.67" font-size="11">c<tspan font-size="8.5" dy="2.8">23</tspan></text>
<circle cx="101.8" cy="730.67" r="4.1"/>
<text x="69.5" y="749.14" font-size="11">c<tspan font-size="8.5" dy="2.8">15</tspan></text>
<g class="o"><polygon points="97.95,747.22 105.65,747.22 101.8,740.72"/><circle cx="101.8" cy="745.14" r="0.4"/></g>
<text x="69.5" y="763.61" font-size="11">c<tspan font-size="8.5" dy="2.8">25</tspan></text>
<g class="o"><polygon points="97.95,757.53 105.65,757.53 101.8,764.03"/><circle cx="101.8" cy="759.61" r="0.4"/></g>
<text x="69.5" y="778.08" font-size="11">c<tspan font-size="8.5" dy="2.8">35</tspan></text>
<g class="o"><polygon points="98,774.08 101.8,770.28 105.6,774.08 101.8,777.88"/><circle cx="101.8" cy="774.08" r="0.4"/></g>
<text x="69.5" y="792.55" font-size="11">c<tspan font-size="8.5" dy="2.8">46</tspan></text>
<g class="o"><polygon points="101.8,784.8 105.46,787.46 104.06,791.76 99.54,791.76 98.14,787.46"/><circle cx="101.8" cy="788.55" r="0.4"/></g>
<text class="cap" transform="translate(204.4 995.7) scale(0.72 1)" text-anchor="middle" font-size="23">(</text>
<text class="cap" transform="translate(213 995) scale(1.1 1)" text-anchor="middle" font-size="20">c</text>
<text class="cap" transform="translate(221.4 995.7) scale(0.72 1)" text-anchor="middle" font-size="23">)</text>
</svg></body></html>
